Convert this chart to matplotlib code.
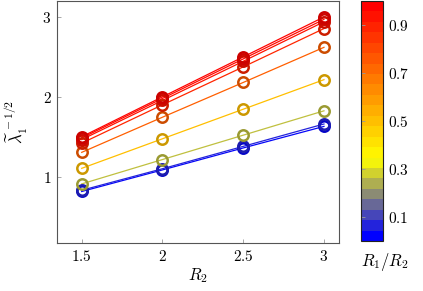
import numpy as np
import matplotlib
matplotlib.use("Agg")
import matplotlib.pyplot as plt
from matplotlib.colors import LinearSegmentedColormap, Normalize
from matplotlib.cm import ScalarMappable

plt.rcParams['mathtext.fontset'] = 'cm'
plt.rcParams['font.family'] = 'DejaVu Serif'

# Data
r2 = [1.5, 2.0, 2.5, 3.0]
ratios = [0.01, 0.05, 0.25, 0.5, 0.75, 0.9, 0.95, 0.975, 0.99]
values = [
    [0.815, 1.085, 1.36, 1.63],
    [0.83, 1.10, 1.38, 1.66],
    [0.91, 1.215, 1.52, 1.825],
    [1.105, 1.475, 1.845, 2.215],
    [1.305, 1.745, 2.18, 2.62],
    [1.42, 1.90, 2.375, 2.855],
    [1.465, 1.955, 2.445, 2.94],
    [1.485, 1.98, 2.475, 2.97],
    [1.50, 2.0, 2.50, 3.0],
]
xticks = [1.5, 2, 2.5, 3]
xticklabels = ['1.5', '2', '2.5', '3']
yticks = [1, 2, 3]
cbticks = [0.1, 0.3, 0.5, 0.7, 0.9]

cmap = LinearSegmentedColormap.from_list('byr', [(0, (0, 0, 1)), (1/3, (1, 1, 0)), (1, (1, 0, 0))])

fig = plt.figure(figsize=(4.23, 2.91), dpi=100)
ax = fig.add_axes([57/423, 48/291, 282/423, 242/291])

spine_c = '#555555'
for r, v in zip(ratios, values):
    c = np.array(cmap(r)[:3])
    mc = c * 0.8
    ax.plot(r2, v, '-', color=c, lw=0.9, zorder=2)
    ax.plot(r2, v, 'o', ls='none', mfc='none', mec=mc, ms=7.5, mew=1.8, zorder=3)

ax.set_xlim(1.347, 3.093)
ax.set_ylim(0.17, 3.2)
ax.set_xticks(xticks)
ax.set_xticklabels([f'${t}$' for t in xticklabels], fontsize=11)
ax.set_yticks(yticks)
ax.set_yticklabels([f'${t}$' for t in yticks], fontsize=11)
ax.tick_params(direction='in', length=3, color='#999999', width=0.6, pad=4)
for s in ax.spines.values():
    s.set_color(spine_c)
    s.set_linewidth(0.8)
ax.set_xlabel(r'$R_2$', fontsize=12, labelpad=2)
ax.set_ylabel(r'$\widetilde{\lambda}_1^{\,-1/2}$', fontsize=12, labelpad=9)

cax = fig.add_axes([361/423, 50/291, 22/423, 240/291])
sm = ScalarMappable(norm=Normalize(0, 1), cmap=cmap.resampled(23))
cb = fig.colorbar(sm, cax=cax)
cb.set_ticks(cbticks)
cb.set_ticklabels([f'${t}$' for t in cbticks])
cb.ax.tick_params(labelsize=11, direction='in', length=3, color='#999999', width=0.6, left=True, right=False)
cb.outline.set_edgecolor('#222222')
cb.outline.set_linewidth(0.8)
fig.text(385/423, 1 - 262/291, r'$R_1/R_2$', fontsize=12, ha='center', va='center')

fig.savefig('out.png', dpi=100)
